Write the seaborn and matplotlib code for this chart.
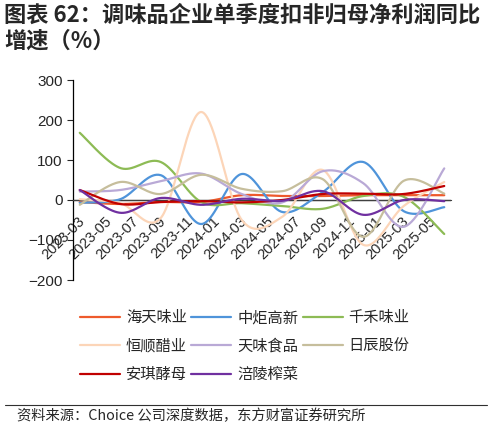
import matplotlib
matplotlib.use("Agg")
import matplotlib.pyplot as plt
import numpy as np
import pandas as pd
import seaborn as sns
from matplotlib.lines import Line2D

# quarterly single-quarter yoy growth of deducted net profit (%)
quarters = ["2023-03", "2023-06", "2023-09", "2023-12", "2024-03",
            "2024-06", "2024-09", "2024-12", "2025-03", "2025-06"]
haitian = [-5, -10, -5, -5, 12, 10, 10, 12, 12, 12]
zhongju = [-7, 2, 62, -60, 65, -30, 20, 95, -28, -18]
qianhe = [168, 80, 95, -5, -8, -15, -22, 10, 8, -85]
hengshun = [2, -8, -45, 220, -50, -42, 75, -112, -15, 45]
tianwei = [21, 25, 47, 66, 15, -6, 72, 42, -67, 79]
richen = [-12, 45, 15, 63, 28, 22, 52, -92, 48, 16]
angel = [25, -10, -5, -3, -6, 0, 15, 16, 15, 35]
fuling = [25, -32, 5, -12, 3, -2, 22, -37, 0, -3]

names = ["海天味业", "中炬高新", "千禾味业", "恒顺醋业", "天味食品", "日辰股份", "安琪酵母", "涪陵榨菜"]
colors = ["#EE5A2C", "#4F94DA", "#8DBB55", "#FCD5B8", "#B9A9D6", "#C6BE9C", "#C00000", "#7030A0"]
tick_labels = ["2023-03", "2023-05", "2023-07", "2023-09", "2023-11", "2024-01", "2024-03",
               "2024-05", "2024-07", "2024-09", "2024-11", "2025-01", "2025-03", "2025-05"]

CJK = ["Noto Sans CJK SC", "DejaVu Sans"]


def month_index(s):
    y, m = s.split("-")
    return (int(y) - 2023) * 12 + int(m) - 3


def smooth(x, y, n=40):
    """Excel-style smoothed line (Catmull-Rom as cubic Bezier)."""
    x = np.asarray(x, float)
    y = np.asarray(y, float)
    px = np.concatenate([[x[0]], x, [x[-1]]])
    py = np.concatenate([[y[0]], y, [y[-1]]])
    t = np.linspace(0, 1, n)[:, None]
    xs, ys = [], []
    for i in range(1, len(px) - 2):
        p0 = np.array([px[i], py[i]])
        p3 = np.array([px[i + 1], py[i + 1]])
        c1 = p0 + (np.array([px[i + 1], py[i + 1]]) - np.array([px[i - 1], py[i - 1]])) / 6
        c2 = p3 - (np.array([px[i + 2], py[i + 2]]) - np.array([px[i], py[i]])) / 6
        b = (1 - t) ** 3 * p0 + 3 * (1 - t) ** 2 * t * c1 + 3 * (1 - t) * t ** 2 * c2 + t ** 3 * p3
        xs.append(b[:, 0])
        ys.append(b[:, 1])
    return np.concatenate(xs), np.concatenate(ys)


series = [haitian, zhongju, qianhe, hengshun, tianwei, richen, angel, fuling]
xm = [month_index(q) for q in quarters]

frames = []
for name, vals in zip(names, series):
    sx, sy = smooth(xm, vals)
    frames.append(pd.DataFrame({"x": sx, "v": sy, "name": name}))
df = pd.concat(frames, ignore_index=True)

sns.set_style("white")
plt.rcParams["font.family"] = ["Liberation Sans", "Noto Sans CJK SC"]

fig = plt.figure(figsize=(4.92, 4.28), dpi=100)
ax = fig.add_axes([73 / 492, 1 - 280 / 428, (451 - 73) / 492, 200 / 428])

ax.axhline(0, color="#404040", lw=1.0, zorder=1)
for i, name in enumerate(names):
    sns.lineplot(data=df[df["name"] == name], x="x", y="v", color=colors[i],
                 sort=False, estimator=None, lw=1.6, ax=ax, zorder=2 + i)

ax.set_xlim(-0.5, 27.5)
ax.set_ylim(-200, 300)
ax.set_yticks(np.arange(-200, 301, 100))
ax.set_xlabel("")
ax.set_ylabel("")
for s in ["top", "right"]:
    ax.spines[s].set_visible(False)
ax.spines["bottom"].set_position(("data", 0))
ax.spines["bottom"].set_color("#404040")
ax.spines["left"].set_color("black")
ax.spines["left"].set_linewidth(0.9)

ax.set_xticks(np.arange(-0.5, 27.6, 2), labels=[])
ax.set_xticks(np.arange(0, 27, 2) + 0.2, labels=tick_labels, minor=True)
ax.tick_params(axis="x", which="major", direction="out", length=4, color="#404040")
ax.tick_params(axis="x", which="minor", length=0, pad=14, labelsize=10.5)
for lab in ax.get_xticklabels(minor=True):
    lab.set_rotation(45)
    lab.set_ha("right")
    lab.set_va("center")
    lab.set_rotation_mode("anchor")
ax.tick_params(axis="y", direction="out", length=4, labelsize=11, left=True)

# legend, row-major order in 3 columns
handles = [Line2D([], [], color=c, lw=1.6) for c in colors]
order = [0, 3, 6, 1, 4, 7, 2, 5]
fig.legend([handles[i] for i in order], [names[i] for i in order],
           loc="upper left", bbox_to_anchor=(80 / 492, 1 - 309 / 428), ncol=3, frameon=False,
           prop={"family": CJK, "size": 11}, handlelength=2.6, handletextpad=0.4,
           columnspacing=0.3, labelspacing=0.75, borderpad=0, borderaxespad=0)

fig.text(4 / 492, 1 - 15 / 428, "图表 62：调味品企业单季度扣非归母净利润同比", family=CJK,
         fontsize=16, fontweight="bold", va="center", ha="left")
fig.text(4 / 492, 1 - 41 / 428, "增速（%）", family=CJK,
         fontsize=16, fontweight="bold", va="center", ha="left")

fig.add_artist(Line2D([5 / 492, 487 / 492], [1 - 405 / 428, 1 - 405 / 428], color="#303030", lw=0.8))
fig.text(17 / 492, 1 - 416 / 428, "资料来源：Choice 公司深度数据，东方财富证券研究所", family=CJK,
         fontsize=10.3, va="center", ha="left")

fig.savefig("out.png", dpi=100)
